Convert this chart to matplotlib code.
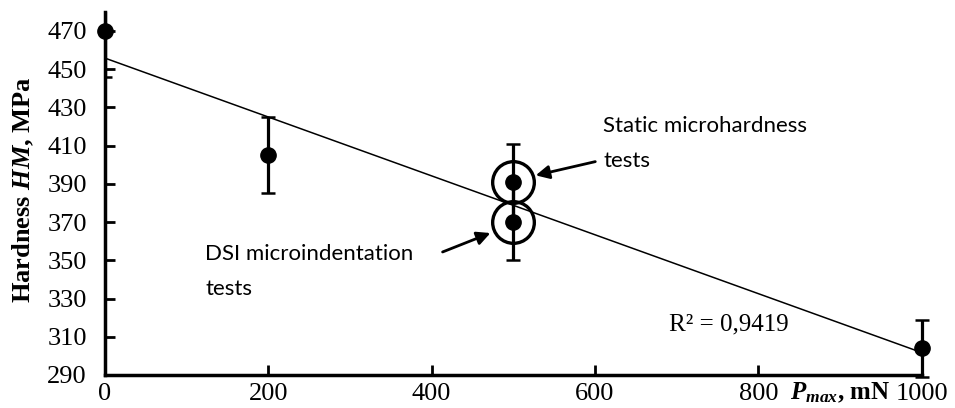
import numpy as np
import matplotlib
matplotlib.use("Agg")
import matplotlib.pyplot as plt

plt.rcParams['font.family'] = 'Liberation Serif'
plt.rcParams['mathtext.fontset'] = 'custom'
plt.rcParams['mathtext.rm'] = 'Liberation Serif'
plt.rcParams['mathtext.bfit'] = 'Liberation Serif:italic:bold'
plt.rcParams['mathtext.it'] = 'Liberation Serif:italic'

# data
load = [0, 200, 500, 500, 1000]          # Pmax, mN
hardness = [470, 405, 391, 370, 304]     # HM, MPa
err = [24, 20, 20, 20, 15]
circled = [2, 3]                          # circled points at 500 mN

yticks = list(range(290, 471, 20))
xticks = [0, 200, 400, 600, 800, 1000]
r2_text = "R² = 0,9419"

fig = plt.figure(figsize=(9.55, 4.08), dpi=100)
ax = fig.add_axes([0.110, 0.081, 0.855, 0.890])

# trend line
k, b = np.polyfit(load, hardness, 1)
xl = np.array([0, 1000])
ax.plot(xl, k * xl + b, color='black', lw=1.1, zorder=2)

# first bar runs off the top of the axis -> keep it clipped
ax.errorbar(load[:1], hardness[:1], yerr=err[:1], fmt='none', ecolor='black',
            elinewidth=2.3, capsize=5, capthick=1.8, zorder=3)
eb = ax.errorbar(load[1:], hardness[1:], yerr=err[1:], fmt='none', ecolor='black',
                 elinewidth=2.3, capsize=5, capthick=1.8, zorder=3)
for art in eb.get_children():
    art.set_clip_on(False)
ax.plot(load, hardness, 'o', color='black', ms=11, clip_on=False, zorder=4)

cx = [load[i] for i in circled]
cy = [hardness[i] for i in circled]
ax.plot(cx, cy, 'o', mfc='none', mec='black', mew=2.4, ms=30, zorder=4)

ax.set_xlim(0, 1000)
ax.set_ylim(290, 480)
ax.set_xticks(xticks)
ax.set_yticks(yticks)
ax.tick_params(direction='in', length=7, width=2, labelsize=19)
ax.tick_params(axis='y', pad=13)
ax.tick_params(axis='x', pad=6)

for s in ['top', 'right']:
    ax.spines[s].set_visible(False)
for s in ['left', 'bottom']:
    ax.spines[s].set_linewidth(2.5)

ax.set_ylabel(r"Hardness $\mathbfit{HM}$, MPa", fontsize=19, fontweight='bold')
ax.yaxis.set_label_coords(-0.085, 0.51)

fig.text(0.827, 0.037, r"$\mathbfit{P}_{\mathbfit{max}}$, mN", fontsize=18,
         fontweight='bold', ha='left', va='center')

ax.annotate(r2_text, xy=(0.763, 0.205), xycoords='figure fraction',
            fontsize=18, ha='center', va='center')

sans = 'Lato'
ax.text(610, 411, "Static microhardness\ntests", fontsize=16, family=sans,
        ha='left', va='center', linespacing=1.95)
ax.text(123, 344, "DSI microindentation\ntests", fontsize=16, family=sans,
        ha='left', va='center', linespacing=1.95)

ax.annotate("", xy=(533 / 955, 1 - 176 / 408), xycoords='figure fraction',
            xytext=(598 / 955, 1 - 161 / 408), textcoords='figure fraction',
            arrowprops=dict(arrowstyle='-|>', color='black', lw=2, mutation_scale=20))
ax.annotate("", xy=(493 / 955, 1 - 232 / 408), xycoords='figure fraction',
            xytext=(440 / 955, 1 - 253 / 408), textcoords='figure fraction',
            arrowprops=dict(arrowstyle='-|>', color='black', lw=2, mutation_scale=20))

fig.savefig("out.png", dpi=100)
